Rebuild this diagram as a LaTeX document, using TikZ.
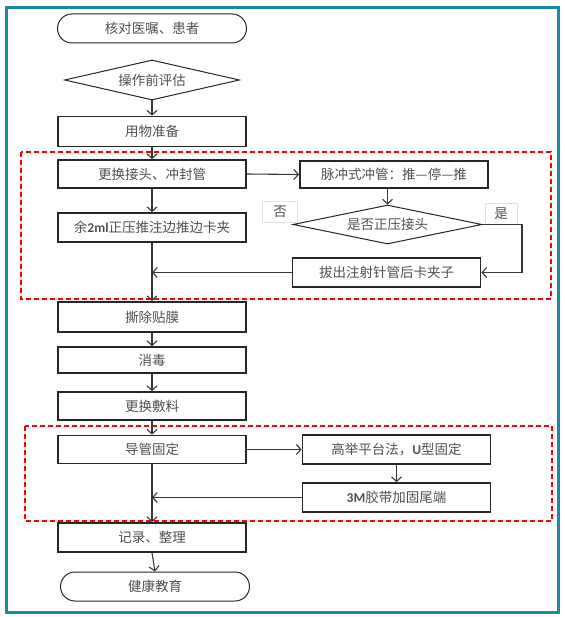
\documentclass[tikz,border=0pt]{standalone}
\usepackage{fontspec}
\newfontfamily\cjk{Noto Sans CJK SC}
\newfontfamily\lat{Carlito}
\usetikzlibrary{shapes.geometric,shapes.misc,arrows.meta}
\definecolor{frameteal}{RGB}{24,139,160}
\definecolor{txtgray}{RGB}{80,80,80}
\definecolor{linegray}{RGB}{55,55,55}
\begin{document}
\begin{tikzpicture}[x=1pt,y=-1pt,
  proc/.style={draw=black!85, line width=1.8pt, rectangle, minimum width=188pt, minimum height=28pt, inner sep=0pt, text=txtgray, font=\cjk\fontsize{13.5}{15}\selectfont},
  term/.style={proc, rounded rectangle, line width=1pt},
  dec/.style={proc, diamond, line width=1pt, shape aspect=4.5},
  tag/.style={draw=black!12, fill=white, line width=0.6pt, minimum width=35pt, minimum height=21pt, inner sep=0pt, text=txtgray, font=\cjk\fontsize{13.5}{15}\selectfont},
  zone/.style={draw=red, line width=1.6pt, dash pattern=on 5pt off 3pt},
  flow/.style={draw=linegray, line width=1.1pt, -{Straight Barb[length=4.5pt,width=10pt]}}]
\useasboundingbox (0,0) rectangle (564,617);
\draw[frameteal, line width=3pt] (6,8) rectangle (558,612);

% dashed groups
\draw[zone] (21,152) rectangle (551,299);
\draw[zone] (25,426) rectangle (552,521);

% main column
\node[term, minimum width=189pt, minimum height=29pt] (verify) at (152,28.5) {核对医嘱、患者};
\node[dec, minimum width=175pt, minimum height=40pt] (assess) at (152,80) {操作前评估};
\node[proc, minimum height=30pt] (prep) at (152,131.5) {用物准备};
\node[proc] (swap) at (152,174) {更换接头、冲封管};
\node[proc, minimum height=29pt] (remain) at (152,227.5) {余{\lat\bfseries 2ml}正压推注边推边卡夹};
\node[proc, minimum height=30pt] (peel) at (152,317) {撕除贴膜};
\node[proc, minimum height=26pt] (disinfect) at (152,360) {消毒};
\node[proc] (dressing) at (152,406) {更换敷料};
\node[proc] (fix) at (152,449.5) {导管固定};
\node[proc, minimum height=29pt] (record) at (152,537.5) {记录、整理};
\node[term, minimum width=189pt, minimum height=29pt] (educate) at (155,586.5) {健康教育};

% side branches
\node[proc, minimum height=27pt] (pulse) at (394,174.5) {脉冲式冲管：推—停—推};
\node[dec, minimum width=189pt, minimum height=39pt] (check) at (387.5,224.5) {是否正压接头};
\node[proc, minimum height=29pt] (pull) at (386.5,272.5) {拔出注射针管后卡夹子};
\node[tag] (no) at (280,211.5) {否};
\node[tag, minimum width=32pt] (yes) at (501,213.5) {是};
\node[proc, minimum height=29pt] (raise) at (396.5,449.5) {高举平台法，{\lat\bfseries U}型固定};
\node[proc, minimum height=29pt] (tape) at (396.5,497.5) {{\lat\bfseries 3M}胶带加固尾端};
\coordinate (yesturn) at (522,224.5);

\draw[flow] (assess.south) -- (prep.north);
\draw[flow] (prep.south) -- (swap.north);
\draw[flow] (swap.south) -- (remain.north);
\draw[flow] (remain.south) -- (peel.north);
\draw[flow] (peel.south) -- (disinfect.north);
\draw[flow] (disinfect.south) -- (dressing.north);
\draw[flow] (dressing.south) -- (fix.north);
\draw[flow] (fix.south) -- (record.north);
\draw[flow] (record.south) -- (educate.north);

\draw[flow] (swap.east) -- (pulse.west);
\draw[flow] (pulse.south -| check.north) -- (check.north);
\draw[flow] (check.east) -- (yesturn) |- (pull.east);
\draw[flow] (pull.west) -- (pull.west -| remain.south);
\draw[flow] (fix.east) -- (raise.west);
\draw[flow] (raise.south) -- (tape.north);
\draw[flow] (tape.west) -- (tape.west -| fix.south);
\end{tikzpicture}
\end{document}
